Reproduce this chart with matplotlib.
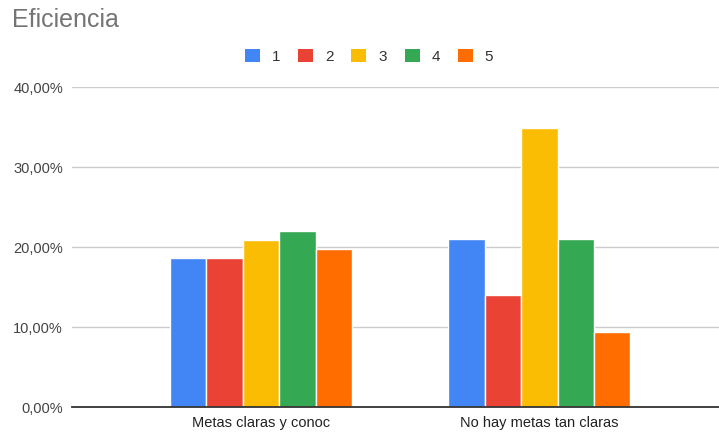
import matplotlib
matplotlib.use("Agg")
import matplotlib.pyplot as plt
from matplotlib.patches import Patch
from matplotlib.ticker import FuncFormatter
import numpy as np

categories = ["Metas claras y conoc", "No hay metas tan claras"]
series_names = ["1", "2", "3", "4", "5"]
values = {
    "1": [18.6, 20.93],
    "2": [18.6, 13.95],
    "3": [20.9, 34.88],
    "4": [22.0, 20.93],
    "5": [19.7, 9.30],
}
colors = ["#4285F4", "#EA4335", "#FBBC04", "#34A853", "#FF6D01"]
y_ticks = [0, 10, 20, 30, 40]

plt.rcParams["font.family"] = ["Liberation Sans", "DejaVu Sans"]

W, H = 719, 435
fig = plt.figure(figsize=(W / 100, H / 100), dpi=100)
ax = fig.add_axes([72 / W, (H - 407.7) / H, (W - 72) / W, 320 / H])

x = np.arange(len(categories))
slot = 0.131
for i, name in enumerate(series_names):
    offs = (i - 2) * slot
    ax.bar(x + offs, values[name], width=slot, color=colors[i],
           edgecolor="white", linewidth=1.0, zorder=3)

ax.set_xlim(-0.680, 1.646)
ax.set_ylim(0, 40)
ax.set_yticks(y_ticks)
ax.yaxis.set_major_formatter(FuncFormatter(lambda v, p: f"{v:.2f}%".replace(".", ",")))
ax.grid(axis="y", color="#cccccc", linewidth=1.0, zorder=0)
ax.set_axisbelow(True)
for s in ["top", "right", "left"]:
    ax.spines[s].set_visible(False)
ax.spines["bottom"].set_color("#333333")
ax.spines["bottom"].set_linewidth(1.3)
ax.spines["bottom"].set_zorder(4)
ax.tick_params(axis="y", length=0, pad=6.5, labelsize=10.5, labelcolor="#444444")
ax.tick_params(axis="x", length=0, pad=6, labelsize=10.5, labelcolor="#222222")
ax.set_xticks(x)
ax.set_xticklabels(categories)

fig.text(12 / W, 1 - 20 / H, "Eficiencia", fontsize=18, color="#757575",
         ha="left", va="center")

handles = [Patch(facecolor=c, edgecolor="none") for c in colors]
fig.legend(handles, series_names, loc="center", bbox_to_anchor=(369 / W, 1 - 57 / H),
           ncol=5, frameon=False, handlelength=0.98, handleheight=0.98,
           handletextpad=0.76, columnspacing=1.18, fontsize=11,
           labelcolor="#333333", borderpad=0, borderaxespad=0)

fig.savefig("out.png", dpi=100)
